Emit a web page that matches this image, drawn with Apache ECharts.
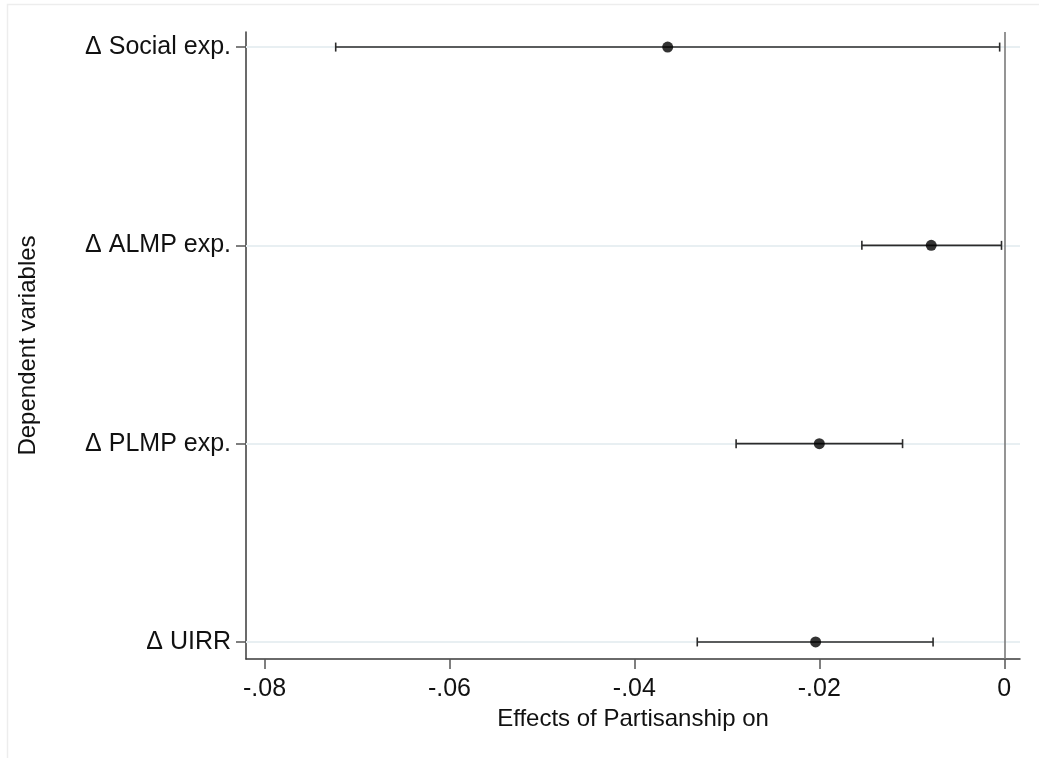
<!DOCTYPE html>
<html lang="en">
<head>
	<meta charset="UTF-8">
	<title>Effects of Partisanship</title>
	<style>
		html, body { margin: 0; padding: 0; background: #fff; }
	</style>
</head>
<body>
	<div id="main" style="width: 1039px;height:758px;"></div>
	<script src="https://cdn.jsdelivr.net/npm/echarts@6/dist/echarts.min.js"></script>
	<script>
		// dependent variables, bottom to top
		var categories = ['\u0394 UIRR', '\u0394 PLMP exp.', '\u0394 ALMP exp.', '\u0394 Social exp.'];
		var rowPos = [1, 2, 3, 4];
		// point estimates and confidence bounds
		var estimates = [-0.0204, -0.0200, -0.0079, -0.0364];
		var lower = [-0.0332, -0.0290, -0.0154, -0.0723];
		var upper = [-0.0077, -0.0110, -0.0003, -0.0005];
		var xTicks = [-0.08, -0.06, -0.04, -0.02, 0];
		var xTickLabels = ['-.08', '-.06', '-.04', '-.02', '0'];

		var myChart = echarts.init(document.getElementById('main'));

		var font = '"Liberation Sans", Arial, sans-serif';

		var barData = [];
		var pointData = [];
		rowPos.forEach(function (y, i) {
			barData.push([lower[i], upper[i], y]);
			pointData.push([estimates[i], y]);
		});

		var option = {
			animation: false,
			backgroundColor: '#fff',
			graphic: [{
				type: 'rect',
				silent: true,
				shape: { x: 7.5, y: 4.5, width: 1100, height: 800 },
				style: { fill: 'none', stroke: '#ededed', lineWidth: 1.5 }
			}],
			grid: { left: 246, right: 19, top: 32, bottom: 99, containLabel: false, outerBoundsMode: 'none' },
			xAxis: {
				type: 'value',
				min: -0.082,
				max: 0.0017,
				name: 'Effects of Partisanship on',
				nameLocation: 'middle',
				nameGap: 48,
				nameTextStyle: { fontFamily: font, fontSize: 24, color: '#111' },
				axisLine: { show: true, onZero: false, lineStyle: { color: '#3a3a3a', width: 1.5 } },
				axisTick: { show: true, length: 10, customValues: xTicks, lineStyle: { color: '#555', width: 1.5 } },
				axisLabel: {
					customValues: xTicks,
					margin: 18,
					fontFamily: font,
					fontSize: 25,
					color: '#111',
					formatter: function (v) {
						var i = xTicks.indexOf(v);
						return i >= 0 ? xTickLabels[i] : '';
					}
				},
				splitLine: { show: false }
			},
			yAxis: {
				type: 'value',
				min: 0.914,
				max: 4.076,
				name: 'Dependent variables',
				nameLocation: 'middle',
				nameGap: 206,
				nameRotate: 90,
				nameTextStyle: { fontFamily: font, fontSize: 24, color: '#111' },
				axisLine: { show: true, onZero: false, lineStyle: { color: '#3a3a3a', width: 1.5 } },
				axisTick: { show: true, length: 10, customValues: rowPos, lineStyle: { color: '#555', width: 1.5 } },
				axisLabel: {
					customValues: rowPos,
					margin: 15,
					fontFamily: font,
					fontSize: 25,
					color: '#111',
					formatter: function (v) {
						var i = rowPos.indexOf(v);
						return i >= 0 ? categories[i] : '';
					}
				},
				splitLine: { show: false }
			},
			series: [{
				type: 'custom',
				name: 'ci',
				data: barData,
				z: 3,
				renderItem: function (params, api) {
					var y = api.value(2);
					var a = api.coord([api.value(0), y]);
					var b = api.coord([api.value(1), y]);
					var h = 4.5;
					var st = { stroke: '#2b2b2b', lineWidth: 1.6 };
					return {
						type: 'group',
						children: [
							{ type: 'line', shape: { x1: a[0], y1: a[1], x2: b[0], y2: b[1] }, style: st },
							{ type: 'line', shape: { x1: a[0], y1: a[1] - h, x2: a[0], y2: a[1] + h }, style: st },
							{ type: 'line', shape: { x1: b[0], y1: b[1] - h, x2: b[0], y2: b[1] + h }, style: st }
						]
					};
				}
			}, {
				type: 'scatter',
				name: 'estimate',
				data: pointData,
				symbolSize: 11,
				z: 4,
				itemStyle: { color: '#000' },
				markLine: {
					silent: true,
					symbol: 'none',
					label: { show: false },
					z: 1,
					data: rowPos.map(function (y) {
						return { yAxis: y, lineStyle: { color: '#e8eff2', width: 2, type: 'solid' } };
					}).concat([{ xAxis: 0, lineStyle: { color: '#7a7a7a', width: 1.6, type: 'solid' } }])
				}
			}]
		};

		myChart.setOption(option);
	</script>
</body>
</html>
